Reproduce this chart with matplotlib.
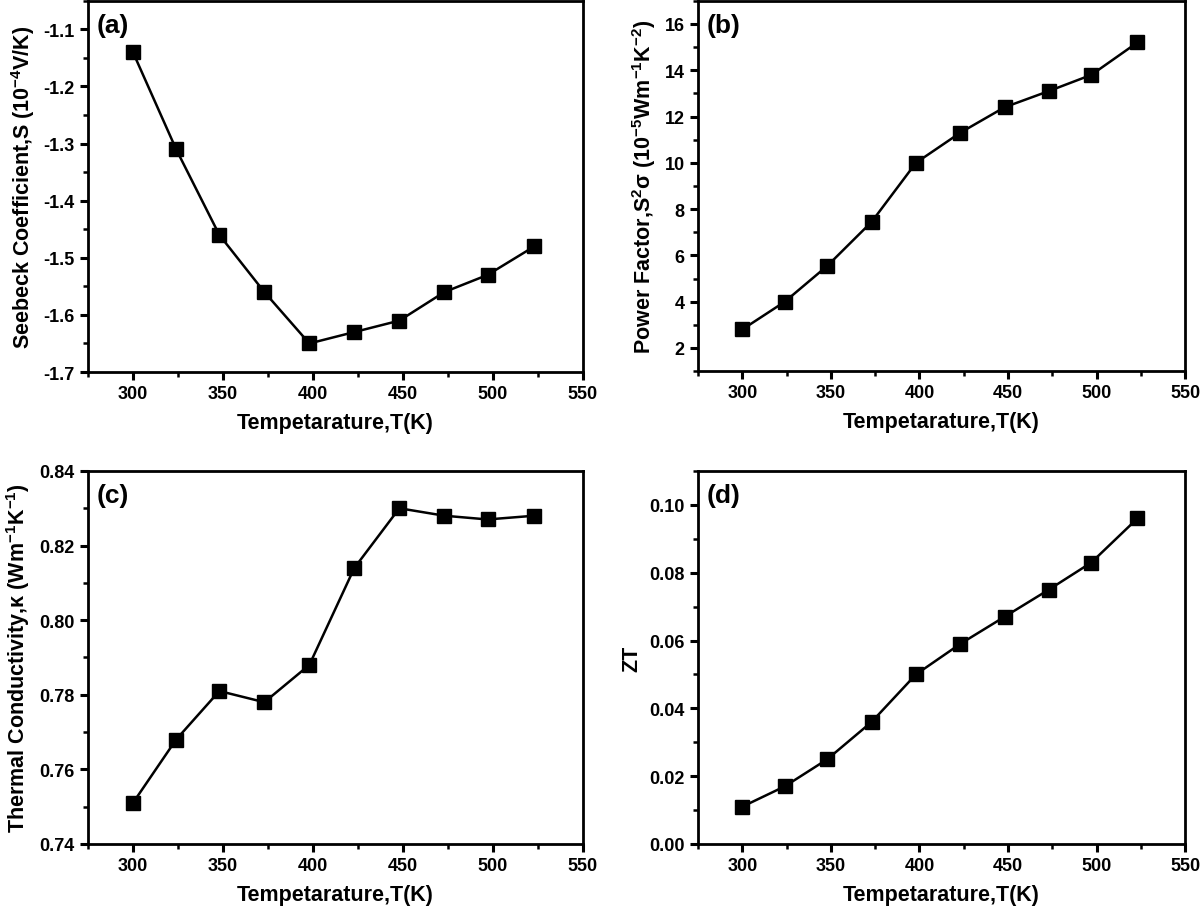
import matplotlib
matplotlib.use('Agg')
import matplotlib.pyplot as plt
from matplotlib.ticker import MultipleLocator

plt.rcParams['font.family'] = ['Liberation Sans', 'DejaVu Sans']
plt.rcParams['font.weight'] = 'bold'
plt.rcParams['mathtext.fontset'] = 'custom'
plt.rcParams['mathtext.rm'] = 'Liberation Sans:bold'
plt.rcParams['mathtext.it'] = 'Liberation Sans:bold'
plt.rcParams['mathtext.bf'] = 'Liberation Sans:bold'
plt.rcParams['axes.linewidth'] = 2.0

temp = [300, 324, 348, 373, 398, 423, 448, 473, 497, 523]
seebeck = [-1.14, -1.31, -1.46, -1.56, -1.65, -1.63, -1.61, -1.56, -1.53, -1.48]
power_factor = [2.8, 4.0, 5.55, 7.45, 10.0, 11.3, 12.4, 13.1, 13.8, 15.2]
kappa = [0.751, 0.768, 0.781, 0.778, 0.788, 0.814, 0.830, 0.828, 0.827, 0.828]
zt = [0.011, 0.017, 0.025, 0.036, 0.050, 0.059, 0.067, 0.075, 0.083, 0.096]

fig = plt.figure(figsize=(12, 9.12), dpi=100)

panels = [
    ([0.0733, 0.591, 0.4125, 0.407], seebeck, '(a)',
     'Seebeck Coefficient,S (10$^{-4}$V/K)', (-1.7, -1.05), 0.1, 0.05, '%.1f'),
    ([0.5817, 0.592, 0.406, 0.406], power_factor, '(b)',
     'Power Factor,S$^{2}$σ (10$^{-5}$Wm$^{-1}$K$^{-2}$)', (1, 17), 2, 1, '%d'),
    ([0.0733, 0.0735, 0.4125, 0.409], kappa, '(c)',
     'Thermal Conductivity,κ (Wm$^{-1}$K$^{-1}$)', (0.74, 0.84), 0.02, 0.01, '%.2f'),
    ([0.5817, 0.0735, 0.406, 0.409], zt, '(d)',
     'ZT', (0.0, 0.11), 0.02, 0.01, '%.2f'),
]

for rect, vals, tag, ylab, ylim, major, minor, fmt in panels:
    ax = fig.add_axes(rect)
    ax.plot(temp, vals, color='black', lw=1.8, marker='s', markersize=9.5)
    ax.set_xlim(275, 550)
    ax.set_ylim(*ylim)
    ax.xaxis.set_major_locator(MultipleLocator(50))
    ax.xaxis.set_minor_locator(MultipleLocator(25))
    ax.yaxis.set_major_locator(MultipleLocator(major))
    ax.yaxis.set_minor_locator(MultipleLocator(minor))
    ax.yaxis.set_major_formatter(plt.FormatStrFormatter(fmt))
    ax.tick_params(which='major', direction='out', length=6, width=2.2,
                   labelsize=13, top=False, right=False)
    ax.tick_params(which='minor', direction='out', length=3.5, width=1.8,
                   top=False, right=False)
    for lab in ax.get_xticklabels() + ax.get_yticklabels():
        lab.set_fontweight('bold')
    ax.set_xlabel('Tempetarature,T(K)', fontsize=15.5, fontweight='bold', labelpad=7)
    ax.set_ylabel(ylab, fontsize=15.5, fontweight='bold', labelpad=5)
    ax.text(0.018, 0.968, tag, transform=ax.transAxes, fontsize=19,
            fontweight='bold', va='top', ha='left')

fig.savefig('out.png', dpi=100)
